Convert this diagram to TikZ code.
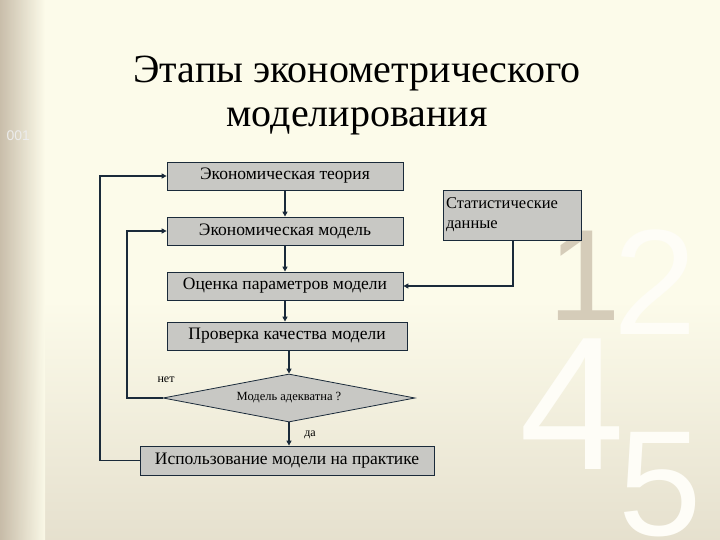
\documentclass[tikz,border=0pt]{standalone}
\usepackage{fontspec}
\setmainfont{Liberation Serif}
\newfontfamily\digfont{Liberation Sans}
\usetikzlibrary{shapes.geometric,arrows.meta}
\definecolor{bgc}{HTML}{FCFBEA}
\definecolor{boxc}{HTML}{C8C8C4}
\definecolor{linec}{HTML}{1A2A3A}
\definecolor{edgec}{HTML}{C4B8A4}
\begin{document}
\begin{tikzpicture}[x=1pt,y=-1pt,
  box/.style={draw=linec,fill=boxc,line width=0.8pt,inner sep=0pt,font=\fontsize{17.5}{19}\selectfont},
  conn/.style={draw=linec,line width=1.6pt,-{Triangle[length=5pt,width=5pt]}},
  thin/.style={draw=linec,line width=1.1pt,-{Triangle[length=5pt,width=5pt]}}]
\useasboundingbox (0,0) rectangle (720,540);
\fill[bgc] (0,0) rectangle (720,540);
\shade[top color=bgc, bottom color=bgc!60!edgec] (0,300) rectangle (720,540);
\shade[left color=edgec, right color=bgc, opacity=0.9] (0,0) rectangle (45,540);
\node[text=white!85!gray,font=\digfont\fontsize{14}{14}\selectfont,anchor=west] (deco) at (3,136) {001};
\node[text=edgec!70!bgc,font=\digfont\fontsize{130}{130}\selectfont] (d1) at (585,276) {1};
\node[text=white!60!bgc,font=\digfont\fontsize{150}{150}\selectfont] (d2) at (655,282) {2};
\node[text=white!60!bgc,font=\digfont\fontsize{190}{190}\selectfont] (d4) at (572,404) {4};
\node[text=white!60!bgc,font=\digfont\fontsize{150}{150}\selectfont] (d5) at (660,485) {5};
\node[font=\fontsize{40}{44}\selectfont,align=center] (title) at (357,96) {Этапы эконометрического\\моделирования};
\node[box,minimum width=236pt,minimum height=28pt] (t) at (285,176) {Экономическая теория};
\node[box,minimum width=236pt,minimum height=28pt] (m) at (285,231) {Экономическая модель};
\node[box,minimum width=236pt,minimum height=28pt] (e) at (285,286) {Оценка параметров модели};
\node[box,minimum width=240pt,minimum height=28pt] (c) at (287,336) {Проверка качества модели};
\node[box,diamond,aspect=5.2,minimum width=252pt,minimum height=48pt,font=\fontsize{12.5}{13}\selectfont] (d) at (289,398) {Модель адекватна ?};
\node[box,minimum width=294pt,minimum height=29pt] (u) at (287,460.5) {Использование модели на практике};
\node[box,minimum width=138pt,minimum height=50pt,align=left,text width=132pt,inner sep=3pt,font=\fontsize{16.5}{20}\selectfont] (s) at (512,215) {Статистические\\данные};
\coordinate (o1) at (100,460.5);
\coordinate (o2) at (100,176);
\coordinate (i1) at (127,398);
\coordinate (i2) at (127,231);
\coordinate (s1) at (513,286);
\draw[conn] (t) -- (m);
\draw[conn] (m) -- (e);
\draw[conn] (e) -- (e |- c.north);
\draw[conn] (c.south -| d.north) -- (d.north);
\draw[conn] (d.south) -- (u.north -| d.south);
\draw[thin] (u.west) -- (o1) -- (o2) -- (t.west);
\draw[thin] (d.west) -- (i1) -- (i2) -- (m.west);
\draw[thin] (s.south -| s1) -- (s1) -- (e.east);
\node[font=\fontsize{12}{13}\selectfont] (no) at (166,380) {нет};
\node[font=\fontsize{12}{13}\selectfont] (yes) at (310,435) {да};
\end{tikzpicture}
\end{document}
